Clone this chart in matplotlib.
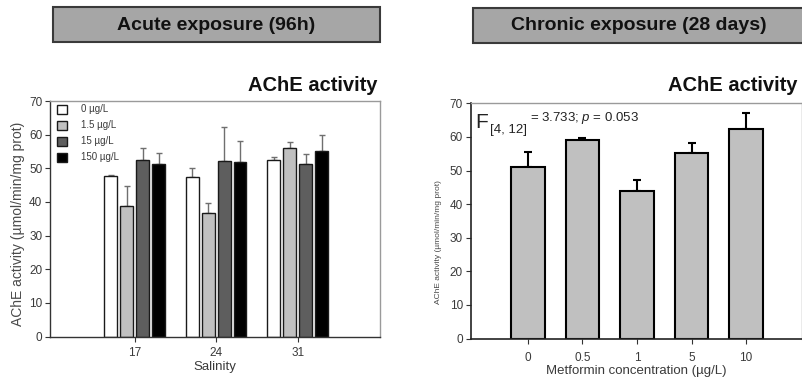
import matplotlib
matplotlib.use("Agg")
import matplotlib.pyplot as plt
from matplotlib.patches import Rectangle
import numpy as np

plt.rcParams['font.family'] = ['Liberation Sans', 'DejaVu Sans']
plt.rcParams['mathtext.fontset'] = 'custom'
plt.rcParams['mathtext.rm'] = 'Liberation Sans'
plt.rcParams['mathtext.it'] = 'Liberation Sans:italic'

# ---- Data: acute exposure ----
salinity = ["17", "24", "31"]
acute_labels = ["0 µg/L", "1.5 µg/L", "15 µg/L", "150 µg/L"]
acute_0 = [47.6, 47.3, 52.5]
acute_0_err = [0.3, 2.7, 0.8]
acute_1_5 = [38.9, 36.8, 56.1]
acute_1_5_err = [5.8, 3.0, 1.6]
acute_15 = [52.6, 52.3, 51.3]
acute_15_err = [3.3, 10.1, 2.8]
acute_150 = [51.3, 52.0, 55.0]
acute_150_err = [3.2, 6.2, 4.9]
acute_colors = ["#ffffff", "#c0c0c0", "#5e5e5e", "#000000"]

# ---- Data: chronic exposure ----
metformin = ["0", "0.5", "1", "5", "10"]
chronic = [51.0, 59.2, 43.9, 55.3, 62.4]
chronic_err = [4.4, 0.6, 3.4, 2.9, 4.8]

yticks = [0, 10, 20, 30, 40, 50, 60, 70]
txt = "#3a3a3a"

W, H = 802, 383
fig = plt.figure(figsize=(W / 100, H / 100), dpi=100)

def fx(px):
    return px / W

def fy(py):
    return 1 - py / H

# ---------- Left panel ----------
axL = fig.add_axes([fx(50), fy(336.5), fx(330), (336.5 - 101) / H])
x = np.arange(len(salinity))
series = [(acute_0, acute_0_err), (acute_1_5, acute_1_5_err),
          (acute_15, acute_15_err), (acute_150, acute_150_err)]
offs = [-0.294, -0.098, 0.098, 0.294]
bw = 0.155
handles = []
for (vals, errs), off, col, lab in zip(series, offs, acute_colors, acute_labels):
    b = axL.bar(x + off, vals, width=bw, color=col, edgecolor="#1a1a1a",
                linewidth=1.0, label=lab, zorder=2)
    handles.append(b)
    axL.errorbar(x + off, vals, yerr=[np.zeros(len(vals)), errs], fmt='none',
                 ecolor="#6f6f6f", elinewidth=1.0, capsize=2.3, capthick=1.0, zorder=1)
axL.set_xlim(-1.04, 3.01)
axL.set_ylim(0, 70)
axL.set_yticks(yticks)
axL.set_xticks(x)
axL.set_xticklabels(salinity)
axL.tick_params(axis='both', direction='out', length=3.5, width=0.8,
                colors="#333333", labelcolor=txt, labelsize=8.5, pad=2)
axL.tick_params(axis='x', pad=4)
axL.set_xlabel("Salinity", fontsize=9.5, color=txt, labelpad=1.5)
axL.set_ylabel("AChE activity (µmol/min/mg prot)", fontsize=10, color="#4a4a4a", labelpad=4)
axL.yaxis.set_label_coords(-0.075, 0.478)
for s in ['left', 'bottom']:
    axL.spines[s].set_color("#333333")
    axL.spines[s].set_linewidth(1.0)
for s in ['top', 'right']:
    axL.spines[s].set_color("#9a9a9a")
    axL.spines[s].set_linewidth(1.0)
leg = axL.legend(handles=handles, loc='upper left', bbox_to_anchor=(0.01, 1.0),
                 frameon=False, fontsize=7, labelcolor=txt,
                 handlelength=1.05, handleheight=1.05, handletextpad=1.5,
                 labelspacing=0.62, borderpad=0.15, borderaxespad=0.2)

# ---------- Right panel ----------
axR = fig.add_axes([fx(470.7), fy(338.5), fx(331), (338.5 - 103.3) / H])
xr = np.arange(len(metformin))
axR.bar(xr, chronic, width=0.62, color="#c0c0c0", edgecolor="#000000",
        linewidth=1.5, zorder=2)
axR.errorbar(xr, chronic, yerr=[np.zeros(len(chronic)), chronic_err], fmt='none',
             ecolor="#000000", elinewidth=1.5, capsize=3, capthick=1.5, zorder=1)
axR.set_xlim(-1.05, 5.02)
axR.set_ylim(0, 70)
axR.set_yticks(yticks)
axR.set_xticks(xr)
axR.set_xticklabels(metformin)
axR.tick_params(axis='both', direction='out', length=3.5, width=0.8,
                colors="#333333", labelcolor=txt, labelsize=8.5, pad=2)
axR.tick_params(axis='x', pad=6)
axR.set_xlabel("Metformin concentration (µg/L)", fontsize=9.5, color=txt, labelpad=1)
axR.set_ylabel("AChE activity (µmol/min/mg prot)", fontsize=6, color="#4a4a4a", labelpad=4)
axR.yaxis.set_label_coords(-0.087, 0.41)
for s in ['left', 'bottom']:
    axR.spines[s].set_color("#222222")
    axR.spines[s].set_linewidth(1.2)
for s in ['top', 'right']:
    axR.spines[s].set_color("#9a9a9a")
    axR.spines[s].set_linewidth(1.0)

axR.text(0.013, 0.895, "F", transform=axR.transAxes, fontsize=15,
         color="#222222", ha='left', va='baseline')
axR.text(0.058, 0.872, "[4, 12]", transform=axR.transAxes, fontsize=9.5,
         color="#222222", ha='left', va='baseline')
axR.text(0.18, 0.925, "= 3.733; $p$ = 0.053", transform=axR.transAxes, fontsize=9.5,
         color="#222222", ha='left', va='baseline')

# ---------- Headers ----------
fig.patches.append(Rectangle((fx(53), fy(42)), fx(327), 35 / H, transform=fig.transFigure,
                             facecolor="#a6a6a6", edgecolor="#3a3a3a", linewidth=1.5,
                             zorder=0))
fig.patches.append(Rectangle((fx(473), fy(43)), fx(340), 35 / H, transform=fig.transFigure,
                             facecolor="#a6a6a6", edgecolor="#3a3a3a", linewidth=1.5,
                             zorder=0, clip_on=False))
fig.text(fx(216.5), fy(25), "Acute exposure (96h)", fontsize=14, fontweight='bold',
         color="#111111", ha='center', va='center')
fig.text(fx(639), fy(25.5), "Chronic exposure (28 days)", fontsize=14, fontweight='bold',
         color="#111111", ha='center', va='center')

fig.text(fx(378), fy(91), "AChE activity", fontsize=14.5, fontweight='bold',
         color="#111111", ha='right', va='baseline')
fig.text(fx(797), fy(91), "AChE activity", fontsize=14.5, fontweight='bold',
         color="#111111", ha='right', va='baseline')

fig.savefig("out.png", dpi=100)
